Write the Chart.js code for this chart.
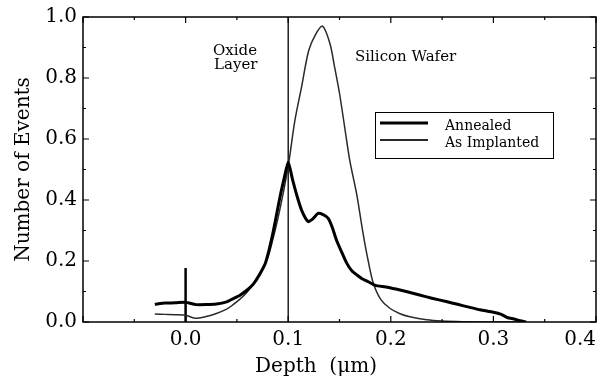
<!DOCTYPE html>
<html lang="en">
<head>
    <meta charset="UTF-8">
    <title>Depth profile</title>
    <script src="https://cdn.jsdelivr.net/npm/chart.js"></script>
    <style>
        html, body { margin: 0; padding: 0; background: #fff; }
        #wrap { width: 603px; height: 378px; }
    </style>
</head>
<body>
    <div id="wrap"><canvas id="myChart" width="603" height="378"></canvas></div>

    <script>
        // depth in um, counts normalised
        let annealedX = [-0.03, -0.02, -0.01, 0.0, 0.01, 0.02, 0.03, 0.04, 0.046, 0.053, 0.06, 0.066, 0.072, 0.078,
            0.085, 0.092, 0.096, 0.1, 0.104, 0.108, 0.113, 0.1195, 0.124, 0.129, 0.134, 0.139, 0.143, 0.147,
            0.152, 0.157, 0.162, 0.167, 0.172, 0.178, 0.185, 0.195, 0.205, 0.215, 0.228, 0.24, 0.254, 0.265,
            0.277, 0.287, 0.3, 0.307, 0.314, 0.32, 0.326, 0.332];
        let annealedY = [0.058, 0.062, 0.063, 0.065, 0.057, 0.057, 0.059, 0.066, 0.076, 0.088, 0.105, 0.124, 0.155, 0.195,
            0.29, 0.41, 0.47, 0.525, 0.47, 0.42, 0.367, 0.329, 0.338, 0.356, 0.352, 0.34, 0.31, 0.269,
            0.23, 0.193, 0.168, 0.154, 0.142, 0.132, 0.12, 0.115, 0.108, 0.1, 0.0885, 0.078, 0.067, 0.058,
            0.048, 0.04, 0.032, 0.026, 0.014, 0.01, 0.004, 0.0];

        let implantedX = [-0.03, -0.02, -0.01, 0.0, 0.01, 0.02, 0.03, 0.04, 0.046, 0.053, 0.059, 0.065, 0.069, 0.074,
            0.08, 0.085, 0.09, 0.095, 0.1, 0.1065, 0.113, 0.12, 0.127, 0.1335, 0.1406, 0.145, 0.15, 0.155,
            0.16, 0.1667, 0.173, 0.178, 0.183, 0.19, 0.199, 0.209, 0.2186, 0.235, 0.25, 0.27, 0.3, 0.33];
        let implantedY = [0.026, 0.025, 0.024, 0.022, 0.012, 0.018, 0.028, 0.042, 0.056, 0.075, 0.094, 0.12, 0.143, 0.17,
            0.21, 0.27, 0.34, 0.42, 0.51, 0.66, 0.77, 0.89, 0.945, 0.97, 0.914, 0.84, 0.75, 0.64,
            0.53, 0.42, 0.29, 0.2, 0.127, 0.075, 0.045, 0.027, 0.017, 0.007, 0.003, 0.001, 0, 0];

        // oxide / silicon interface and the surface marker
        let interfaceX = [0.1, 0.1];
        let interfaceY = [0, 1];
        let markerX = [0.0, 0.0];
        let markerY = [0, 0.177];

        let xTicks = [-0.1, 0.0, 0.1, 0.2, 0.3, 0.4];
        let yTicks = [0.0, 0.2, 0.4, 0.6, 0.8, 1.0];

        const serif = 'DejaVu Serif';

        function pts(xs, ys) {
            return xs.map((x, i) => ({x: x, y: ys[i]}));
        }

        // frame with inward ticks, text labels and the boxed legend
        const decor = {
            id: 'decor',
            afterDraw(chart) {
                const ctx = chart.ctx;
                const a = chart.chartArea;
                const xs = chart.scales.x;
                const ys = chart.scales.y;
                ctx.save();
                ctx.strokeStyle = '#000';
                ctx.lineWidth = 1.5;
                ctx.strokeRect(a.left, a.top, a.right - a.left, a.bottom - a.top);

                ctx.lineWidth = 1.2;
                ctx.beginPath();
                for (let i = 0; i < xTicks.length; i++) {
                    let px = xs.getPixelForValue(xTicks[i]);
                    ctx.moveTo(px, a.bottom); ctx.lineTo(px, a.bottom - 6);
                    ctx.moveTo(px, a.top); ctx.lineTo(px, a.top + 6);
                    if (i < xTicks.length - 1) {
                        let mx = xs.getPixelForValue((xTicks[i] + xTicks[i + 1]) / 2);
                        ctx.moveTo(mx, a.bottom); ctx.lineTo(mx, a.bottom - 3);
                        ctx.moveTo(mx, a.top); ctx.lineTo(mx, a.top + 3);
                    }
                }
                for (let i = 0; i < yTicks.length; i++) {
                    let py = ys.getPixelForValue(yTicks[i]);
                    ctx.moveTo(a.left, py); ctx.lineTo(a.left + 6, py);
                    ctx.moveTo(a.right, py); ctx.lineTo(a.right - 6, py);
                    if (i < yTicks.length - 1) {
                        let my = ys.getPixelForValue((yTicks[i] + yTicks[i + 1]) / 2);
                        ctx.moveTo(a.left, my); ctx.lineTo(a.left + 3, my);
                        ctx.moveTo(a.right, my); ctx.lineTo(a.right - 3, my);
                    }
                }
                ctx.stroke();

                ctx.fillStyle = '#000';
                ctx.textAlign = 'left';
                ctx.textBaseline = 'alphabetic';
                ctx.font = '15px ' + serif;
                ctx.fillText('Oxide', 213, 55);
                ctx.fillText('Layer', 214, 69);
                ctx.fillText('Silicon Wafer', 355, 61);

                ctx.font = '20px ' + serif;
                ctx.textAlign = 'center';
                ctx.fillText('Depth  (\u03bcm)', 316, 372);

                // legend
                ctx.lineWidth = 1;
                ctx.strokeRect(375.5, 112.5, 178, 46);
                ctx.textAlign = 'left';
                ctx.font = '14px ' + serif;
                const ds = chart.data.datasets;
                const rows = [123, 140];
                for (let i = 0; i < 2; i++) {
                    ctx.strokeStyle = ds[i].borderColor;
                    ctx.lineWidth = i === 0 ? 3 : 2;
                    ctx.beginPath();
                    ctx.moveTo(380, rows[i]);
                    ctx.lineTo(428, rows[i]);
                    ctx.stroke();
                    ctx.fillText(ds[i].label, 445, rows[i] + 7);
                }
                ctx.restore();
            }
        };

        const ctx = document.getElementById('myChart').getContext('2d');
        let myChart = new Chart(ctx, {
            type: 'scatter',
            data: {
                datasets: [
                    {
                        label: 'Annealed',
                        data: pts(annealedX, annealedY),
                        showLine: true,
                        borderColor: '#000',
                        borderWidth: 3,
                        pointRadius: 0,
                        tension: 0.2
                    },
                    {
                        label: 'As Implanted',
                        data: pts(implantedX, implantedY),
                        showLine: true,
                        borderColor: '#2a2a2a',
                        borderWidth: 1.5,
                        pointRadius: 0,
                        tension: 0.3
                    },
                    {
                        label: 'interface',
                        data: pts(interfaceX, interfaceY),
                        showLine: true,
                        borderColor: '#000',
                        borderWidth: 1.3,
                        pointRadius: 0
                    },
                    {
                        label: 'surface',
                        data: pts(markerX, markerY),
                        showLine: true,
                        borderColor: '#000',
                        borderWidth: 2.5,
                        pointRadius: 0
                    }
                ]
            },
            options: {
                responsive: false,
                animation: false,
                layout: { padding: { top: 17, right: 7, left: 0, bottom: 0 } },
                plugins: {
                    legend: { display: false },
                    tooltip: { enabled: false }
                },
                scales: {
                    x: {
                        type: 'linear',
                        min: -0.1,
                        max: 0.4,
                        grid: { display: false, drawTicks: false },
                        border: { display: false },
                        afterBuildTicks: s => { s.ticks = xTicks.map(v => ({value: v})); },
                        afterFit: s => { s.height = 56; s.paddingLeft = 0; s.paddingRight = 0; },
                        ticks: {
                            padding: 6,
                            align: 'inner',
                            color: '#000',
                            font: { family: serif, size: 20 },
                            callback: v => (v < -0.05 ? '' : v.toFixed(1))
                        }
                    },
                    y: {
                        min: 0,
                        max: 1,
                        grid: { display: false, drawTicks: false },
                        border: { display: false },
                        afterBuildTicks: s => { s.ticks = yTicks.map(v => ({value: v})); },
                        afterFit: s => { s.width = 83; s.paddingTop = 0; s.paddingBottom = 0; },
                        title: {
                            display: true,
                            text: 'Number of Events',
                            color: '#000',
                            font: { family: serif, size: 20, lineHeight: 1 },
                            padding: { top: 14 }
                        },
                        ticks: {
                            padding: 6,
                            color: '#000',
                            font: { family: serif, size: 20 },
                            callback: v => v.toFixed(1)
                        }
                    }
                }
            },
            plugins: [decor]
        });
    </script>
</body>
</html>
